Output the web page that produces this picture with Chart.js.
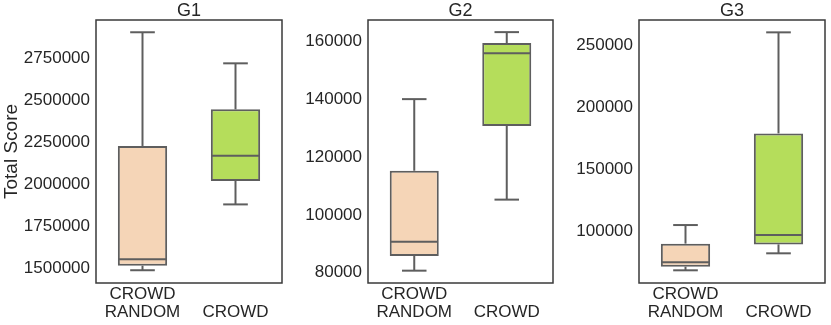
<!DOCTYPE html>
<html>
<head>
<meta charset="utf-8">
<script src="https://cdn.jsdelivr.net/npm/chart.js@4.4.1/dist/chart.umd.min.js"></script>
<style>
  body { margin:0; background:#fff; width:831px; height:325px; overflow:hidden; position:relative; }
  canvas { position:absolute; top:0; }
</style>
</head>
<body>
<canvas id="c1" width="290" height="325" style="left:0px"></canvas>
<canvas id="c2" width="270" height="325" style="left:290px"></canvas>
<canvas id="c3" width="271" height="325" style="left:560px"></canvas>
<script>
// categories + box stats: [whisker low, q1, median, q3, whisker high]
const groups = ['G1', 'G2', 'G3'];
const xLabels = [['CROWD', 'RANDOM'], ['', 'CROWD']];

const g1Random = [1488000, 1515000, 1554000, 2228000, 2905000];
const g1Crowd  = [1880000, 2020000, 2170000, 2446000, 2720000];
const g2Random = [80700, 85800, 90750, 115300, 140100];
const g2Crowd  = [105300, 130800, 156000, 159500, 163300];
const g3Random = [68300, 71200, 74800, 89800, 104800];
const g3Crowd  = [82000, 89200, 96800, 178700, 260200];

const g1Ticks = [1500000, 1750000, 2000000, 2250000, 2500000, 2750000];
const g2Ticks = [80000, 100000, 120000, 140000, 160000];
const g3Ticks = [100000, 150000, 200000, 250000];

const g1Range = [1412000, 2978000];
const g2Range = [76430, 167500];
const g3Range = [58060, 270160];

const FONT = '"Liberation Sans", Arial, sans-serif';
const TEXT = '#262626';
const LINE = '#5e5e5e';
const FRAME = '#3a3a3a';
const FILLS = ['#f5d5b7', '#b5dd5b'];

Chart.defaults.font.family = FONT;
Chart.defaults.color = TEXT;

// whiskers, medians, frame and panel title, all placed from the chart's scales
const boxExtras = {
  id: 'boxExtras',
  afterDatasetsDraw(chart, args, opts) {
    const { ctx, chartArea: a } = chart;
    const y = chart.scales.y;
    const meta = chart.getDatasetMeta(0);
    const seg = (x1, y1, x2, y2) => { ctx.beginPath(); ctx.moveTo(x1, y1); ctx.lineTo(x2, y2); ctx.stroke(); };
    ctx.save();
    ctx.strokeStyle = LINE; ctx.lineWidth = 2;
    opts.stats.forEach((s, i) => {
      const bar = meta.data[i];
      const x = bar.x, half = bar.width / 2, cap = bar.width / 4;
      const p = v => y.getPixelForValue(v);
      seg(x, p(s[3]), x, p(s[4]));
      seg(x, p(s[1]), x, p(s[0]));
      seg(x - cap, p(s[4]), x + cap, p(s[4]));
      seg(x - cap, p(s[0]), x + cap, p(s[0]));
      seg(x - half + 1, p(s[2]), x + half - 1, p(s[2]));
    });
    ctx.strokeStyle = FRAME; ctx.lineWidth = 1.5;
    ctx.strokeRect(a.left, a.top, a.right - a.left, a.bottom - a.top);
    ctx.fillStyle = TEXT;
    ctx.font = '18px ' + FONT;
    ctx.textAlign = 'center'; ctx.textBaseline = 'middle';
    ctx.fillText(opts.title, (a.left + a.right) / 2, 11);
    ctx.restore();
  }
};

function makePanel(id, title, stats, ticks, range, axisWidth, padRight, yTitle) {
  return new Chart(document.getElementById(id), {
    type: 'bar',
    data: {
      labels: xLabels,
      datasets: [{
        data: stats.map(s => [s[1], s[3]]),
        backgroundColor: FILLS, borderColor: LINE, borderWidth: 2,
        borderSkipped: false, barPercentage: 0.53, categoryPercentage: 1
      }]
    },
    options: {
      responsive: false, animation: false, devicePixelRatio: 1,
      layout: { padding: { top: 20, right: padRight, left: 0, bottom: 0 } },
      plugins: { legend: { display: false }, tooltip: { enabled: false }, boxExtras: { stats, title } },
      scales: {
        x: {
          grid: { display: false, drawTicks: false }, border: { display: false },
          ticks: { font: { size: 17, lineHeight: 1.08 }, color: TEXT, padding: 2, maxRotation: 0 },
          afterFit: s => { s.height = 42; }
        },
        y: {
          min: range[0], max: range[1],
          grid: { display: false, drawTicks: false }, border: { display: false },
          afterBuildTicks: s => { s.ticks = ticks.map(v => ({ value: v })); },
          afterFit: s => { s.width = axisWidth; },
          ticks: { font: { size: 17 }, color: TEXT, padding: 6, callback: v => String(v) },
          title: { display: !!yTitle, text: yTitle || '', font: { size: 19 }, color: TEXT, padding: { top: 0, bottom: 0 } }
        }
      }
    },
    plugins: [boxExtras]
  });
}

makePanel('c1', groups[0], [g1Random, g1Crowd], g1Ticks, g1Range, 96, 8, 'Total Score');
makePanel('c2', groups[1], [g2Random, g2Crowd], g2Ticks, g2Range, 78, 7, '');
makePanel('c3', groups[2], [g3Random, g3Crowd], g3Ticks, g3Range, 79, 6, '');
</script>
</body>
</html>
